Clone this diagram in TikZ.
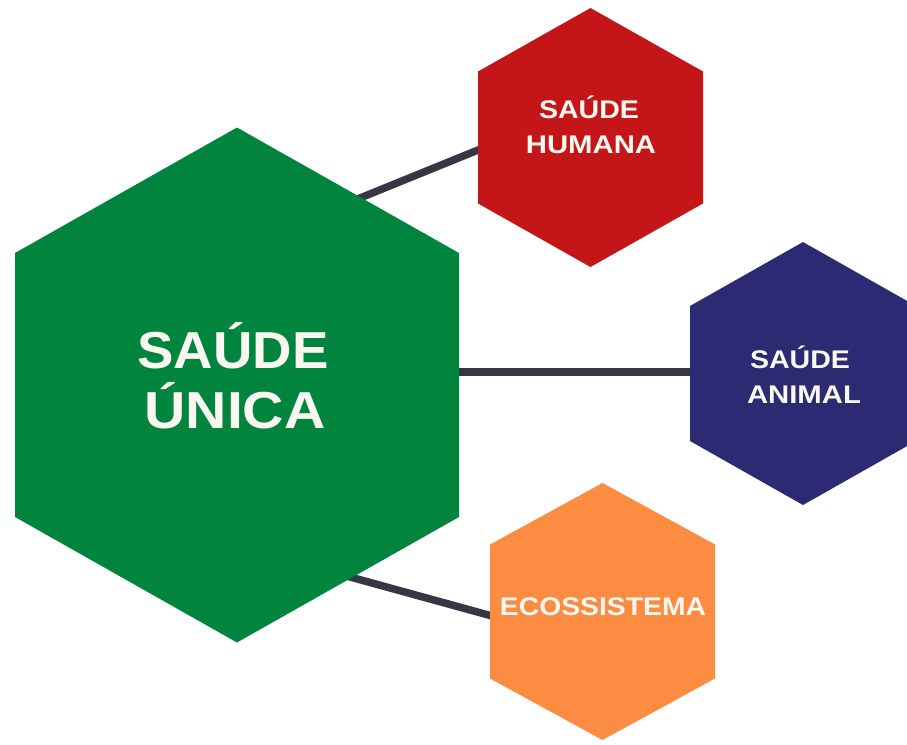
\documentclass[tikz,border=0pt]{standalone}
\usepackage{fontspec}
\usepackage{graphicx}
\setmainfont{Liberation Sans}
\definecolor{cgreen}{RGB}{0,132,62}
\definecolor{cred}{RGB}{196,22,24}
\definecolor{cnavy}{RGB}{44,42,115}
\definecolor{corange}{RGB}{252,140,66}
\definecolor{cline}{RGB}{54,54,70}
\definecolor{ctext}{RGB}{250,247,240}
\newcommand{\hexfill}[7]{%
  \coordinate (#1) at (#2,#3);
  \fill[#7] (#2,#3-#6) -- (#2+#4,#3-#5) -- (#2+#4,#3+#5) -- (#2,#3+#6)
    -- (#2-#4,#3+#5) -- (#2-#4,#3-#5) -- cycle;}
\begin{document}
\begin{tikzpicture}[x=1pt,y=-1pt,
  conn/.style={draw=cline,line width=7.5pt},
  bigtxt/.style={text=ctext,anchor=base,inner sep=0pt,font=\bfseries\fontsize{52}{52}\selectfont},
  smalltxt/.style={text=ctext,anchor=base,inner sep=0pt,font=\bfseries\fontsize{25.5}{25.5}\selectfont}]
\useasboundingbox (0,0) rectangle (907,744);
% connector end points
\coordinate (l1a) at (330,210.2);
\coordinate (l1b) at (484,147.6);
\coordinate (l2a) at (440,372);
\coordinate (l2b) at (700,372);
\coordinate (l3a) at (320,568.7);
\coordinate (l3b) at (496,617.1);
\draw[conn] (l1a) -- (l1b);
\draw[conn] (l2a) -- (l2b);
\draw[conn] (l3a) -- (l3b);
% hexagons
\hexfill{green}{237}{385}{222}{132}{257.5}{cgreen}
\hexfill{red}{590.5}{137.5}{112.5}{66}{129.5}{cred}
\hexfill{navy}{803}{373.5}{113}{67.5}{131.5}{cnavy}
\hexfill{orange}{602.5}{611.5}{112.5}{67}{128.5}{corange}
% texts
\node[bigtxt] (t1) at (233,368) {\scalebox{1.05}[1]{SAÚDE}};
\node[bigtxt] (t2) at (235,428) {\scalebox{1.1}[1]{ÚNICA}};
\node[smalltxt] (h1) at (589,118) {\scalebox{1.12}[1]{SAÚDE}};
\node[smalltxt] (h2) at (591,153) {\scalebox{1.15}[1]{HUMANA}};
\node[smalltxt] (a1) at (800,368) {\scalebox{1.12}[1]{SAÚDE}};
\node[smalltxt] (a2) at (804,403) {\scalebox{1.15}[1]{ANIMAL}};
\node[smalltxt] (e1) at (603,615) {\scalebox{1.11}[1]{ECOSSISTEMA}};
\end{tikzpicture}
\end{document}
